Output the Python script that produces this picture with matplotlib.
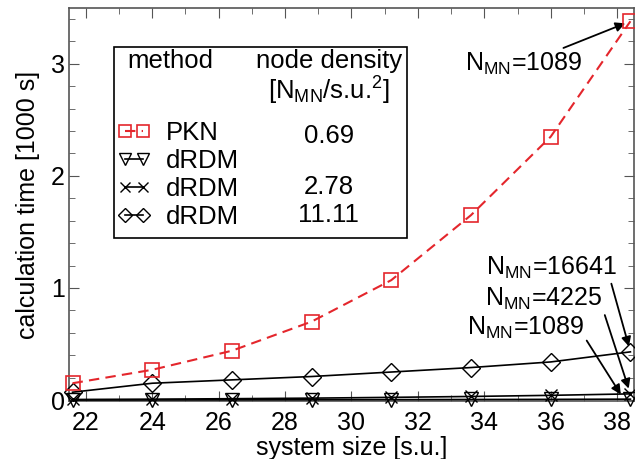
import matplotlib
matplotlib.use('Agg')
import matplotlib.pyplot as plt
from matplotlib.patches import Rectangle
from matplotlib.ticker import MultipleLocator

plt.rcParams['font.family'] = ['Liberation Sans', 'DejaVu Sans']
plt.rcParams['mathtext.fontset'] = 'custom'
plt.rcParams['mathtext.rm'] = 'Liberation Sans'
plt.rcParams['mathtext.it'] = 'Liberation Sans'

# system size [s.u.] and calculation time [1000 s]
size = [21.6, 24.0, 26.4, 28.8, 31.2, 33.6, 36.0, 38.4]
t_pkn = [0.15, 0.27, 0.44, 0.70, 1.07, 1.65, 2.35, 3.38]
t_drdm_069 = [0.000, 0.001, 0.002, 0.003, 0.004, 0.005, 0.006, 0.008]
t_drdm_278 = [0.005, 0.008, 0.012, 0.017, 0.024, 0.032, 0.042, 0.055]
t_drdm_1111 = [0.07, 0.15, 0.18, 0.21, 0.25, 0.29, 0.34, 0.43]

methods = ['PKN', 'dRDM', 'dRDM', 'dRDM']
densities = ['0.69', '2.78', '11.11']

fig = plt.figure(figsize=(6.35, 4.59), dpi=100)
ax = fig.add_axes([0.109, 0.126, 0.889, 0.857])

red = '#e4262c'
l1, = ax.plot(size, t_pkn, '--', color=red, lw=1.5, marker='s', ms=10,
              mfc='none', mec=red, mew=1.2, dashes=(5, 3), clip_on=False, zorder=5)
l2, = ax.plot(size, t_drdm_069, '-', color='k', lw=1.2, marker='v', ms=10,
              mfc='none', mew=1.0, clip_on=False, zorder=4)
l3, = ax.plot(size, t_drdm_278, '-', color='k', lw=1.2, marker='x', ms=9,
              mew=1.0, clip_on=False, zorder=4)
l4, = ax.plot(size, t_drdm_1111, '-', color='k', lw=1.2, marker='D', ms=9,
              mfc='none', mew=1.0, clip_on=False, zorder=4)

ax.set_xlim(21.5, 38.5)
ax.set_ylim(-0.01, 3.5)
ax.xaxis.set_major_locator(MultipleLocator(2))
ax.xaxis.set_minor_locator(MultipleLocator(1))
ax.yaxis.set_major_locator(MultipleLocator(1))
ax.yaxis.set_minor_locator(MultipleLocator(0.2))
ax.tick_params(which='both', direction='in', top=True, right=True,
               labelsize=18, color='#555555', pad=3)
ax.tick_params(axis='x', which='both', pad=7)
ax.tick_params(which='major', length=7)
ax.tick_params(which='minor', length=4)
for s in ax.spines.values():
    s.set_color('#555555')
    s.set_linewidth(1.2)

ax.set_xlabel('system size [s.u.]', fontsize=18, labelpad=1)
ax.set_ylabel('calculation time [1000 s]', fontsize=18, labelpad=8)

# legend table
fs = 18.5
ax.add_patch(Rectangle((0.080, 0.415), 0.518, 0.486, transform=ax.transAxes,
                       fill=False, ec='k', lw=1.2, zorder=6))
ax.text(0.103, 0.864, 'method', transform=ax.transAxes, fontsize=fs, va='center')
ax.text(0.460, 0.864, 'node density', transform=ax.transAxes, fontsize=fs,
        va='center', ha='center')
ax.text(0.460, 0.789, r'[N$_{\mathrm{MN}}$/s.u.$^{2}$]', transform=ax.transAxes,
        fontsize=fs, va='center', ha='center')
leg = ax.legend([l1, l2, l3, l4], methods, loc='upper left',
                bbox_to_anchor=(0.085, 0.712), frameon=False, fontsize=fs,
                numpoints=2, handlelength=1.3, handletextpad=0.6,
                labelspacing=0.16, borderaxespad=0, borderpad=0,
                markerscale=0.8)
ax.text(0.460, 0.674, densities[0], transform=ax.transAxes, fontsize=fs,
        va='center', ha='center')
ax.text(0.460, 0.545, densities[1], transform=ax.transAxes, fontsize=fs,
        va='center', ha='center')
ax.text(0.460, 0.473, densities[2], transform=ax.transAxes, fontsize=fs,
        va='center', ha='center')

# annotations
arrow = dict(arrowstyle='-|>', color='k', lw=1.3, mutation_scale=14,
             shrinkA=0, shrinkB=4)
ax.annotate(r'N$_{\mathrm{MN}}$=1089', xy=(size[-1], t_pkn[-1]),
            xytext=(36.95, 3.0), fontsize=18, ha='right', va='center',
            arrowprops=arrow, annotation_clip=False)
ax.annotate(r'N$_{\mathrm{MN}}$=16641', xy=(size[-1], t_drdm_1111[-1]),
            xytext=(38.0, 1.18), fontsize=18, ha='right', va='center',
            arrowprops=dict(arrow, relpos=(0.95, 0.0)), annotation_clip=False)
ax.annotate(r'N$_{\mathrm{MN}}$=4225', xy=(size[-1], t_drdm_278[-1]),
            xytext=(37.55, 0.90), fontsize=18, ha='right', va='center',
            arrowprops=dict(arrow, relpos=(1.0, 0.2)), annotation_clip=False)
ax.annotate(r'N$_{\mathrm{MN}}$=1089', xy=(size[-1] - 0.2, t_drdm_069[-1]),
            xytext=(37.0, 0.64), fontsize=18, ha='right', va='center',
            arrowprops=dict(arrow, relpos=(1.0, 0.2)), annotation_clip=False)

fig.savefig('out.png', dpi=100)
